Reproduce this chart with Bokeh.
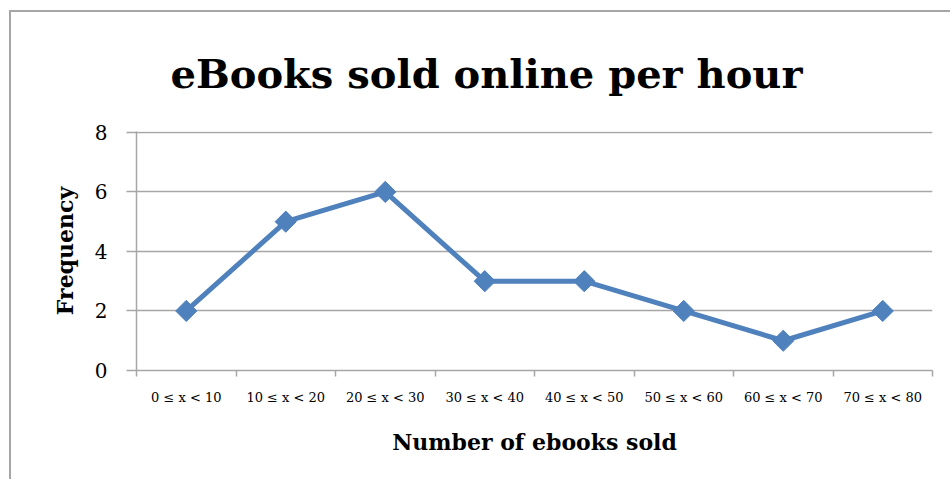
import numpy as np
from bokeh.plotting import figure
from bokeh.models import FixedTicker, Range1d
from bokeh.embed import file_html
from bokeh.resources import INLINE

# ---- data ----
categories = ["0 ≤ x < 10", "10 ≤ x < 20", "20 ≤ x < 30", "30 ≤ x < 40",
              "40 ≤ x < 50", "50 ≤ x < 60", "60 ≤ x < 70", "70 ≤ x < 80"]
frequency = [2, 5, 6, 3, 3, 2, 1, 2]
y_ticks = [0, 2, 4, 6, 8]
title_text = "eBooks sold online per hour"
x_label = "Number of ebooks sold"
y_label = "Frequency"

n = len(categories)
x_pos = [i + 0.5 for i in range(n)]
boundaries = list(range(n + 1))
y_max = max(y_ticks)

GRAY = "#a6a6a6"
BLUE = "#4F81BD"
FONT = "DejaVu Serif"

# layout (pixels)
ML, MT, BW = 9, 10, 2                # outer margin and chart-border width
W, H = 952 - ML - BW, 481 - MT - BW
FL, FR, FT, FB = 136 - ML - BW, 20, 131 - MT - BW, 111   # frame borders
y_end = y_max + 0.03                 # tiny headroom so the top gridline is drawn

p = figure(width=W, height=H, output_backend="svg", toolbar_location=None,
           x_range=Range1d(0, n), y_range=Range1d(0, y_end),
           min_border_left=FL, min_border_right=FR,
           min_border_top=FT, min_border_bottom=FB)
p.outline_line_color = None
p.background_fill_color = "white"
p.border_fill_color = "white"
p.styles = {"border-left": f"{BW}px solid {GRAY}", "border-top": f"{BW}px solid {GRAY}",
            "margin-left": f"{ML}px", "margin-top": f"{MT}px"}

# title
p.title.text = title_text
p.title.align = "left"
p.title.vertical_align = "top"
p.title.offset = 34
p.title.standoff = 66
p.title.text_font = FONT
p.title.text_font_style = "bold"
p.title.text_font_size = "40px"
p.title.text_color = "black"

# grid
p.xgrid.grid_line_color = None
p.ygrid.ticker = FixedTicker(ticks=y_ticks)
p.ygrid.grid_line_color = GRAY
p.ygrid.grid_line_width = 1.5

# y axis
p.yaxis.ticker = FixedTicker(ticks=y_ticks)
p.yaxis.axis_line_color = GRAY
p.yaxis.axis_line_width = 1.5
p.yaxis.major_tick_line_color = GRAY
p.yaxis.major_tick_line_width = 1.5
p.yaxis.major_tick_out = 10
p.yaxis.major_tick_in = 0
p.yaxis.minor_tick_line_color = None
p.yaxis.major_label_text_font = FONT
p.yaxis.major_label_text_font_size = "20px"
p.yaxis.major_label_text_color = "black"
p.yaxis.major_label_standoff = 19
p.yaxis.axis_label = y_label
p.yaxis.axis_label_text_font = FONT
p.yaxis.axis_label_text_font_style = "bold"
p.yaxis.axis_label_text_font_size = "22px"
p.yaxis.axis_label_text_color = "black"
p.yaxis.axis_label_standoff = 14

# x axis: labels at category centres, ticks at category boundaries
p.xaxis.ticker = FixedTicker(ticks=x_pos, minor_ticks=boundaries)
p.xaxis.major_label_overrides = {x: c for x, c in zip(x_pos, categories)}
p.xaxis.axis_line_color = GRAY
p.xaxis.axis_line_width = 1.5
p.xaxis.major_tick_line_color = None
p.xaxis.major_tick_out = 0
p.xaxis.major_tick_in = 0
p.xaxis.minor_tick_line_color = GRAY
p.xaxis.minor_tick_line_width = 1.5
p.xaxis.minor_tick_out = 6
p.xaxis.minor_tick_in = 0
p.xaxis.major_label_text_font = FONT
p.xaxis.major_label_text_font_size = "13px"
p.xaxis.major_label_text_color = "black"
p.xaxis.major_label_standoff = 13
p.xaxis.axis_label = x_label
p.xaxis.axis_label_text_font = FONT
p.xaxis.axis_label_text_font_style = "bold"
p.xaxis.axis_label_text_font_size = "22px"
p.xaxis.axis_label_text_color = "black"
p.xaxis.axis_label_standoff = 21

# series
p.line(x_pos, frequency, line_color=BLUE, line_width=5, line_join="round")
p.scatter(x_pos, frequency, marker="square", size=15, angle=np.pi / 4,
          fill_color=BLUE, line_color=BLUE)

open("out.html", "w").write(file_html(p, INLINE))
